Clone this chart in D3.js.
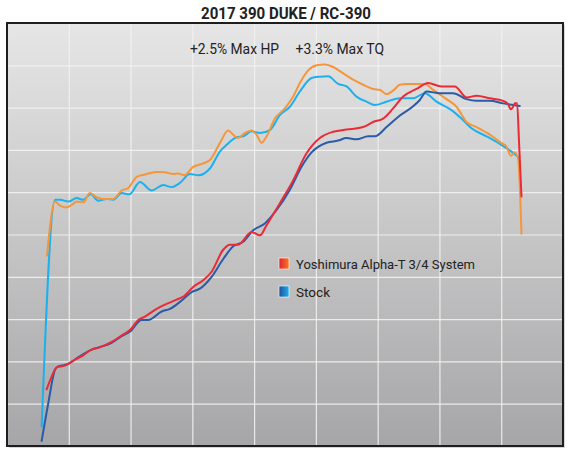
<!DOCTYPE html>
<html>
<head>
<meta charset="utf-8">
<script src="https://cdn.jsdelivr.net/npm/d3@7"></script>
<style>
  html, body { margin: 0; padding: 0; background: #ffffff; }
  svg { display: block; }
  text { font-family: Roboto, "Liberation Sans", Arial, sans-serif; fill: #222; }
</style>
</head>
<body>
<svg id="chart" width="570" height="456"></svg>
<script>
// ---------- DATA ----------
const title = "2017 390 DUKE / RC-390";
const annotations = ["+2.5% Max HP", "+3.3% Max TQ"];
const seriesNames = ["Yoshimura Alpha-T 3/4 System", "Stock"];
const xTicks = [2000, 3000, 4000, 5000, 6000, 7000, 8000, 9000, 10000, 11000];
const yTicks = [0, 5, 10, 15, 20, 25, 30, 35, 40, 45, 50];

// Yoshimura torque (orange) [rpm, value]
const yoshiTQ = [
  [2647,22.5],[2777,28.9],[2858,28.4],[2955,28.2],[3047,28.5],[3128,28.9],[3235,28.8],
  [3343,29.9],[3451,29.4],[3558,29.2],[3720,29.2],[3856,30.2],[3963,30.5],[4099,31.8],
  [4233,32.1],[4422,32.4],[4556,32.35],[4691,32.15],[4772,32.2],[4869,32.0],[5014,33.0],
  [5176,33.4],[5285,33.8],[5446,35.8],[5581,37.3],[5662,36.8],[5742,36.4],[5851,37.0],
  [5959,37.3],[6040,36.8],[6121,35.85],[6202,36.6],[6336,38.7],[6498,39.9],[6632,41.3],
  [6741,42.9],[6875,44.4],[7011,45.0],[7145,45.1],[7280,44.8],[7441,44.05],[7603,43.3],
  [7765,42.7],[7927,42.2],[8035,42.1],[8143,41.6],[8250,42.0],[8359,42.7],[8467,42.8],
  [8763,42.8],[8898,42.1],[9114,41.0],[9276,40.1],[9438,38.3],[9600,37.7],[9815,36.8],
  [10004,35.8],[10085,35.4],[10155,34.3],[10219,34.7],[10273,34.0],[10328,25.1]
];
// Stock torque (light blue)
const stockTQ = [
  [2561,2.3],[2777,29.1],[2858,29.1],[2992,28.9],[3128,29.3],[3235,29.1],[3354,29.8],
  [3477,29.0],[3613,29.2],[3720,29.1],[3856,29.9],[3979,29.75],[4152,31.2],[4341,30.2],
  [4529,30.85],[4665,30.6],[4799,31.1],[4961,32.15],[5095,32.0],[5285,32.8],[5446,34.8],
  [5555,35.6],[5717,36.5],[5823,36.6],[5959,37.2],[6094,37.0],[6255,37.35],[6417,39.1],
  [6579,40.1],[6741,41.9],[6930,43.5],[7064,43.65],[7199,43.7],[7360,42.8],[7496,42.5],
  [7658,41.3],[7820,40.7],[7954,40.3],[8143,40.7],[8359,41.1],[8574,41.1],[8763,41.7],
  [8953,40.7],[9195,39.7],[9357,38.7],[9519,37.55],[9762,36.6],[9977,35.7],[10166,34.8],
  [10289,34.1]
];
// Yoshimura horsepower (red)
const yoshiHP = [
  [2642,6.7],[2723,8.2],[2804,9.3],[2938,9.5],[3100,10.2],[3209,10.6],[3370,11.4],
  [3477,11.6],[3694,12.3],[3882,13.2],[3990,13.7],[4124,14.9],[4233,15.3],[4422,16.2],
  [4556,16.7],[4746,17.3],[4853,17.65],[5014,18.8],[5176,19.6],[5312,20.6],[5500,23.2],
  [5608,23.8],[5742,23.8],[5959,25.3],[6094,24.9],[6202,26.1],[6417,28.7],[6632,31.4],
  [6849,34.6],[7064,36.4],[7280,37.15],[7496,37.4],[7765,37.7],[7927,38.3],[8089,38.7],
  [8250,39.9],[8412,41.3],[8629,42.2],[8817,42.9],[9033,42.5],[9249,42.5],[9438,41.2],
  [9600,41.4],[9815,41.1],[10030,40.8],[10111,40.4],[10155,39.8],[10192,40.1],[10219,40.5],
  [10257,40.5],[10289,35.8],[10328,29.5]
];
// Stock horsepower (dark blue)
const stockHP = [
  [2561,0.6],[2668,5.05],[2777,9.0],[2830,9.4],[2992,9.7],[3154,10.5],[3370,11.4],
  [3505,11.7],[3694,12.2],[3856,13.0],[3990,13.5],[4179,14.9],[4286,14.9],[4503,15.9],
  [4637,16.2],[4827,17.2],[4988,18.2],[5123,18.6],[5312,20.0],[5500,22.1],[5662,23.6],
  [5823,24.15],[5985,25.5],[6174,26.3],[6364,27.9],[6579,30.3],[6768,33.0],[6930,34.7],
  [7173,35.85],[7360,36.1],[7496,36.4],[7658,36.25],[7846,36.6],[7954,36.6],[8143,37.7],
  [8331,38.9],[8574,40.15],[8682,40.9],[8791,41.9],[9006,41.7],[9221,41.7],[9438,41.0],
  [9600,40.8],[9815,40.8],[10030,40.5],[10300,40.2]
];

// ---------- DRAW ----------
const svg = d3.select("#chart");
const pLeft = 7, pRight = 563, pTop = 23, pBottom = 446;
const x = d3.scaleLinear().domain([2000, 11000]).range([pLeft, pRight]);
const y = d3.scaleLinear().domain([0, 50]).range([pBottom, pTop]);

const defs = svg.append("defs");
const bg = defs.append("linearGradient").attr("id", "bg").attr("x1", 0).attr("y1", 0).attr("x2", 0).attr("y2", 1);
bg.append("stop").attr("offset", "0%").attr("stop-color", "#e6e6e6");
bg.append("stop").attr("offset", "100%").attr("stop-color", "#a6a6a8");
const gRed = defs.append("linearGradient").attr("id", "gRed");
gRed.append("stop").attr("offset", "0%").attr("stop-color", "#e8202e");
gRed.append("stop").attr("offset", "100%").attr("stop-color", "#f47a2a");
const gBlue = defs.append("linearGradient").attr("id", "gBlue");
gBlue.append("stop").attr("offset", "0%").attr("stop-color", "#1d4f9e");
gBlue.append("stop").attr("offset", "100%").attr("stop-color", "#1fb0ec");

// shadow
svg.append("rect").attr("x", pLeft + 2).attr("y", pTop + 2).attr("width", pRight - pLeft).attr("height", pBottom - pTop)
  .attr("fill", "#bbb").attr("opacity", 0.6);
// background
svg.append("rect").attr("x", pLeft).attr("y", pTop).attr("width", pRight - pLeft).attr("height", pBottom - pTop)
  .attr("fill", "url(#bg)");

// gridlines using axes
const gx = svg.append("g").attr("transform", `translate(0,${pBottom})`)
  .call(d3.axisBottom(x).tickValues(xTicks).tickSize(-(pBottom - pTop)).tickFormat(""));
const gy = svg.append("g").attr("transform", `translate(${pLeft},0)`)
  .call(d3.axisLeft(y).tickValues(yTicks).tickSize(-(pRight - pLeft)).tickFormat(""));
[gx, gy].forEach(g => {
  g.select(".domain").remove();
  g.selectAll(".tick line").attr("stroke", "#f2f2f2").attr("stroke-width", 1.2).attr("opacity", 0.9);
});

// lines
const line = d3.line().x(d => x(d[0])).y(d => y(d[1])).curve(d3.curveMonotoneX);
const series = [
  { data: stockTQ, color: "#1cb1ec" },
  { data: yoshiTQ, color: "#f5963a" },
  { data: stockHP, color: "#2a5ba6" },
  { data: yoshiHP, color: "#ec2a36" }
];
svg.append("g").selectAll("path").data(series).join("path")
  .attr("d", d => line(d.data))
  .attr("fill", "none")
  .attr("stroke", d => d.color)
  .attr("stroke-width", 2)
  .attr("stroke-linejoin", "round")
  .attr("stroke-linecap", "round");

// frame
svg.append("rect").attr("x", pLeft).attr("y", pTop).attr("width", pRight - pLeft).attr("height", pBottom - pTop)
  .attr("fill", "none").attr("stroke", "#1e1e1e").attr("stroke-width", 2);

// title
svg.append("text").attr("x", 286).attr("y", 18.5).attr("text-anchor", "middle")
  .attr("font-size", 16.5).attr("font-weight", "bold")
  .attr("textLength", 170).attr("lengthAdjust", "spacingAndGlyphs").text(title);

// annotations
svg.append("text").attr("x", 190).attr("y", 54).attr("font-size", 14)
  .attr("textLength", 89).attr("lengthAdjust", "spacingAndGlyphs").text(annotations[0]);
svg.append("text").attr("x", 295.5).attr("y", 54).attr("font-size", 14)
  .attr("textLength", 88.5).attr("lengthAdjust", "spacingAndGlyphs").text(annotations[1]);

// legend
const legend = svg.append("g");
[["url(#gRed)", 258, seriesNames[0], 179], ["url(#gBlue)", 286, seriesNames[1], 34]].forEach(([fill, yy, name, len]) => {
  legend.append("rect").attr("x", 279).attr("y", yy).attr("width", 10).attr("height", 11)
    .attr("fill", fill).attr("stroke", "#fff").attr("stroke-width", 0.6);
  legend.append("text").attr("x", 296).attr("y", yy + 10.5).attr("font-size", 13)
    .attr("textLength", len).attr("lengthAdjust", "spacingAndGlyphs").text(name);
});
</script>
</body>
</html>
